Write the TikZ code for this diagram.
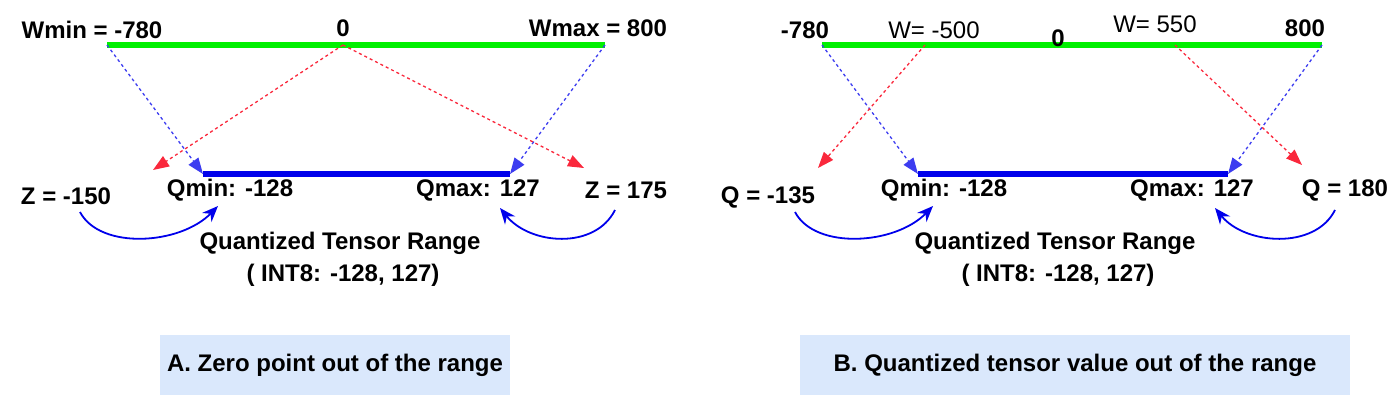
\documentclass[tikz,border=0pt]{standalone}
\usepackage{fontspec}
\setmainfont{Liberation Sans}
\usetikzlibrary{arrows.meta}
\definecolor{rngreen}{RGB}{0,240,0}
\definecolor{rnblue}{RGB}{0,0,235}
\definecolor{dblue}{RGB}{60,60,240}
\definecolor{dred}{RGB}{250,40,60}
\definecolor{boxfill}{RGB}{218,232,252}
\tikzset{every picture/.style={line width=0.75pt},
  lbl/.style={font=\fontsize{24}{28}\selectfont\bfseries, inner sep=0.75pt},
  lbn/.style={font=\fontsize{24}{28}\selectfont, inner sep=0.75pt},
  bdash/.style={draw=dblue, dashed, line width=1.3pt, -{Triangle[length=16pt,width=12pt]}},
  rdash/.style={draw=dred, dashed, line width=1.3pt, -{Triangle[length=16pt,width=12pt]}},
  swing/.style={draw=rnblue, line width=1.8pt, -{Stealth[length=16pt,width=13pt]}},
  caption/.style={fill=boxfill, minimum height=60pt, font=\fontsize{24}{28}\selectfont\bfseries}}

\begin{document}
\begin{tikzpicture}[x=1pt,y=1pt,yscale=-1,xscale=1]
\useasboundingbox (0,0) rectangle (1400,413);

% Panel A
\coordinate (aWl) at (107,45); \coordinate (aWr) at (605,45); \coordinate (aW0) at (343,45);
\coordinate (aQl) at (203,174); \coordinate (aQr) at (510,174);
\draw [rngreen, line width=6pt] (aWl) -- (aWr);
\draw [rnblue, line width=6pt] (aQl) -- (aQr);
\draw [bdash] (aWl) -- (aQl);
\draw [bdash] (aWr) -- (aQr);
\coordinate (aZl) at (153,170); \coordinate (aZr) at (584,168);
\draw [rdash] (aW0) -- (aZl);
\draw [rdash] (aW0) -- (aZr);
% Text Node
\node [lbl] (aWmin) at (92,30) {Wmin = -780};
\node [lbl] (aZero) at (343,28) {0};
\node [lbl] (aWmax) at (598,28) {Wmax = 800};
\node [lbl] (aZn) at (66,196) {Z = -150};
\node [lbl] (aQmin) at (230,190) {Qmin: -128};
\node [lbl] (aQmax) at (478,190) {Qmax: 127};
\node [lbl] (aZp) at (626,190) {Z = 175};
\node [lbl] (aRng) at (340,243) {Quantized Tensor Range};
\node [lbl] (aInt) at (343,275) {( INT8: -128, 127)};
\draw [swing] (80,212) .. controls (100,250) and (180,245) .. (218,206);
\draw [swing] (615,210) .. controls (595,250) and (530,245) .. (500,208);
\node [caption, minimum width=350pt] (aCap) at (335,365) {A. Zero point out of the range};

% Panel B
\coordinate (bWl) at (822,45); \coordinate (bWr) at (1322,45);
\coordinate (bQl) at (918,174); \coordinate (bQr) at (1228,174);
\draw [rngreen, line width=6pt] (bWl) -- (bWr);
\draw [rnblue, line width=6pt] (bQl) -- (bQr);
\draw [bdash] (bWl) -- (bQl);
\draw [bdash] (bWr) -- (bQr);
\coordinate (bWa) at (925,45); \coordinate (bWb) at (1175,45);
\coordinate (bZl) at (818,168); \coordinate (bZr) at (1302,165);
\draw [rdash] (bWa) -- (bZl);
\draw [rdash] (bWb) -- (bZr);
% Text Node
\node [lbl] (bWmin) at (805,30) {-780};
\node [lbn] (bWn) at (934,30) {W= -500};
\node [lbl] (bZero) at (1058,38) {0};
\node [lbn] (bWp) at (1155,24) {W= 550};
\node [lbl] (bWmax) at (1305,28) {800};
\node [lbl] (bQn) at (768,197) {Q = -135};
\node [lbl] (bQmin) at (944,190) {Qmin: -128};
\node [lbl] (bQmax) at (1192,190) {Qmax: 127};
\node [lbl] (bQp) at (1345,190) {Q = 180};
\node [lbl] (bRng) at (1055,243) {Quantized Tensor Range};
\node [lbl] (bInt) at (1058,275) {( INT8: -128, 127)};
\draw [swing] (795,212) .. controls (815,250) and (895,245) .. (933,206);
\draw [swing] (1335,210) .. controls (1315,250) and (1245,245) .. (1215,208);
\node [caption, minimum width=550pt] (bCap) at (1075,365) {B. Quantized tensor value out of the range};

\end{tikzpicture}
\end{document}
